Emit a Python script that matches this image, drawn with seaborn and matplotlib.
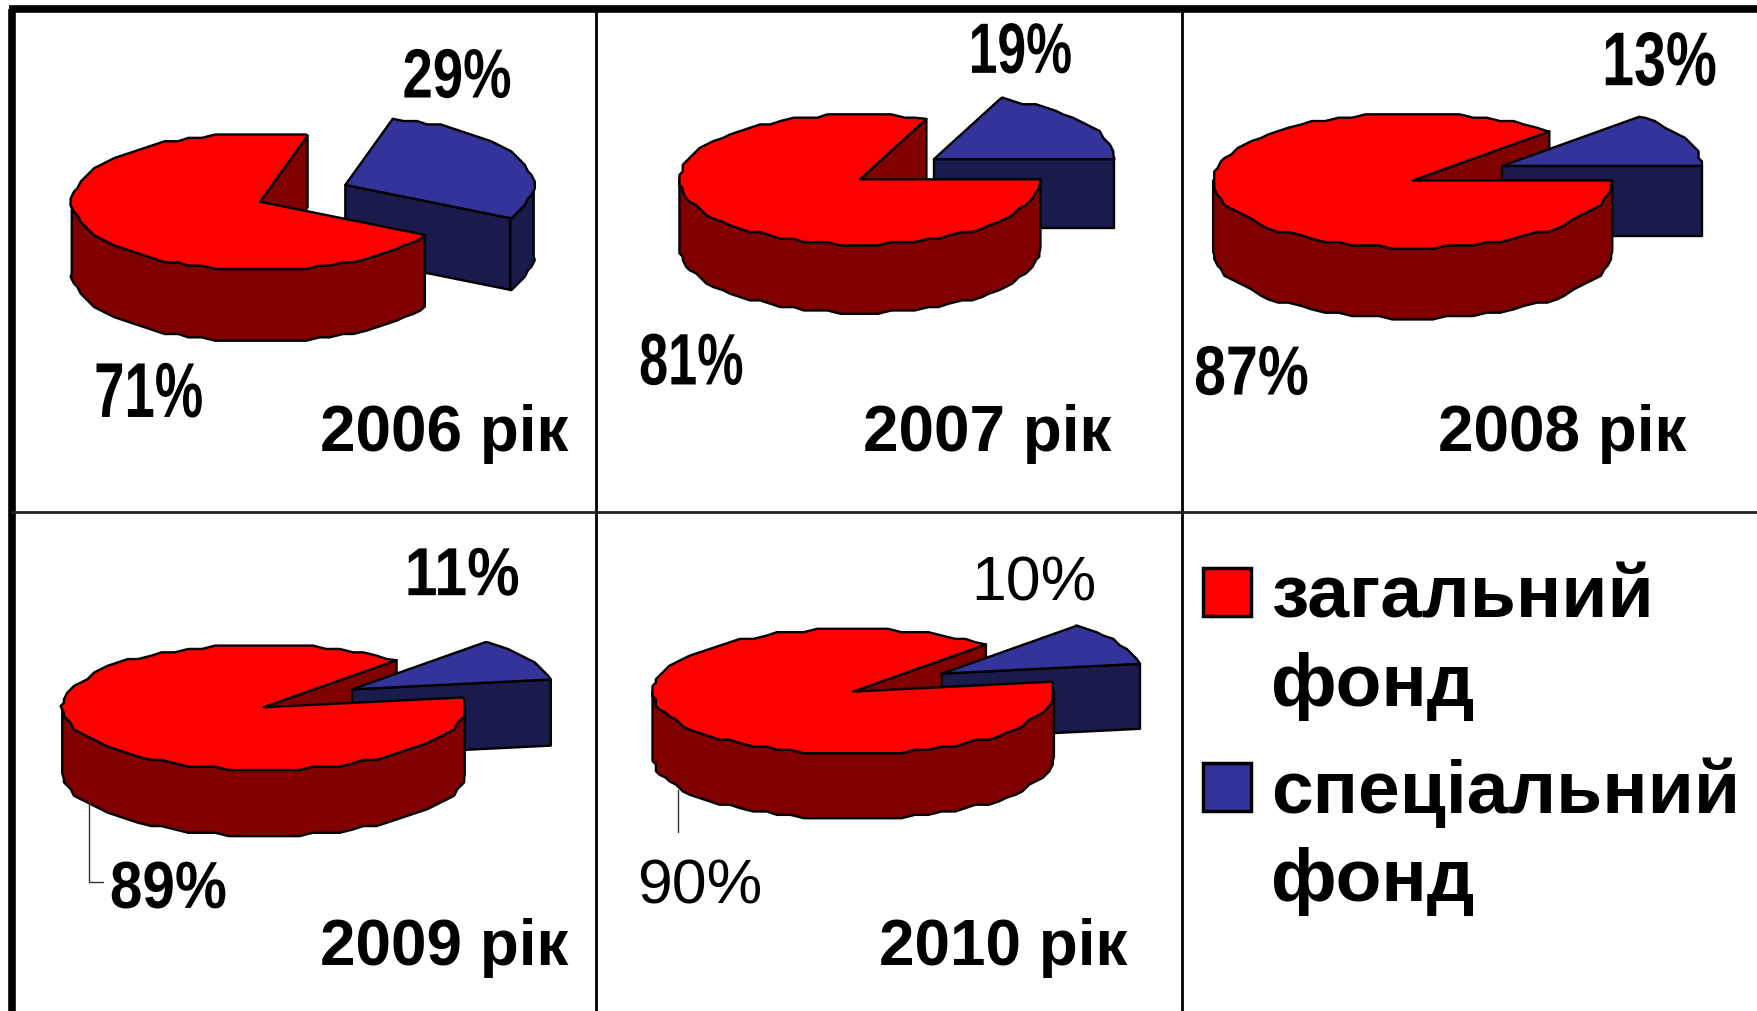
import numpy as np
import pandas as pd
import matplotlib
matplotlib.use("Agg")
import matplotlib.pyplot as plt
import seaborn as sns
from matplotlib.patches import Polygon, Rectangle
from matplotlib.patheffects import AbstractPathEffect
from matplotlib.transforms import Affine2D

# Дані
years = [2006, 2007, 2008, 2009, 2010]
general_labels = ["71%", "81%", "87%", "89%", "90%"]
special_labels = ["29%", "19%", "13%", "11%", "10%"]
# частка спецфонду, як вона намальована на секторах (2010 на малюнку ширше за підпис)
special_fund = [29, 19, 13, 11, 11]
legend_labels = ["загальний\nфонд", "спеціальний\nфонд"]

df = pd.DataFrame({"year": years, "special": special_fund,
                   "general_label": general_labels, "special_label": special_labels})

# Розташування (координати у пікселях зображення 1568x902)
centers = [(232, 180), (767, 160), (1260, 161), (235, 631), (761, 617)]
radii = [(168, 61), (161, 58), (178, 60), (179.5, 56), (179, 56)]
depths = [64, 61, 63, 59, 58]
offsets = [(76, -15), (66, -18), (80, -13), (79, -16), (79, -16)]
start_angles = [-29, 0, 0, 9, 9]

RED, RED_DARK = sns.color_palette(["#ff0000", "#800000"])
BLUE, BLUE_DARK = sns.color_palette(["#333399", "#1a1a4d"])

sns.set_theme(style="white")
plt.rcParams["font.family"] = ["Liberation Sans", "DejaVu Sans"]

fig = plt.figure(figsize=(17.58, 10.11), dpi=100)
ax = fig.add_axes([0, 0, 1, 1])
ax.set_xlim(0, 1568)
ax.set_ylim(902, 0)
ax.axis("off")


class Condense(AbstractPathEffect):
    # стискає гліфи по горизонталі, текст лишається текстом
    def __init__(self, sx):
        super().__init__()
        self.sx = sx

    def draw_path(self, renderer, gc, tpath, affine, rgbFace=None):
        renderer.draw_path(gc, tpath, Affine2D().scale(self.sx, 1) + affine, rgbFace)


def arc(cx, cy, rx, ry, a0, a1):
    # спільна сітка кутів, щоб верх і стінка збігалися; округлення дає зубчастий край
    inner = np.arange(np.ceil(a0 / 4) * 4, a1, 4.0)
    inner = inner[inner > a0]
    t = np.radians(inner)
    mid = np.column_stack([cx + rx * np.cos(t), cy - ry * np.sin(t)])
    mid = np.round(mid / 3) * 3
    ends = np.radians([a0, a1])
    first = [cx + rx * np.cos(ends[0]), cy - ry * np.sin(ends[0])]
    last = [cx + rx * np.cos(ends[1]), cy - ry * np.sin(ends[1])]
    return np.vstack([first, mid, last])


def poly(pts, color):
    ax.add_patch(Polygon(pts, closed=True, facecolor=color, edgecolor="black",
                         linewidth=1.7, joinstyle="round"))


def side_wall(cx, cy, rx, ry, depth, a0, a1, color):
    # зовнішня стінка тільки там, де дуга дивиться на глядача
    if a0 < 0:
        top = arc(cx, cy, rx, ry, a0, min(a1, 0))
    elif min(a1, 360) > max(a0, 180):
        top = arc(cx, cy, rx, ry, max(a0, 180), min(a1, 360))
    else:
        return
    poly(np.vstack([top, top[::-1] + [0, depth]]), color)


def cut_face(cx, cy, rx, ry, depth, angle, color):
    t = np.radians(angle)
    p = (cx + rx * np.cos(t), cy - ry * np.sin(t))
    poly([(cx, cy), p, (p[0], p[1] + depth), (cx, cy + depth)], color)


def sector_top(cx, cy, rx, ry, a0, a1, color):
    poly(np.vstack([[cx, cy], arc(cx, cy, rx, ry, a0, a1)]), color)


for i, row in df.iterrows():
    cx, cy = centers[i]
    rx, ry = radii[i]
    depth = depths[i]
    dx, dy = offsets[i]
    a0 = start_angles[i]
    a1 = a0 + row["special"] * 3.6
    bx, by = cx + dx, cy + dy

    cut_face(cx, cy, rx, ry, depth, a1, RED_DARK)

    # спеціальний фонд (винесений сектор)
    side_wall(bx, by, rx, ry, depth, a0, a1, BLUE_DARK)
    cut_face(bx, by, rx, ry, depth, a0, BLUE_DARK)
    sector_top(bx, by, rx, ry, a0, a1, BLUE)

    # загальний фонд
    side_wall(cx, cy, rx, ry, depth, a1, a0 + 360, RED_DARK)
    sector_top(cx, cy, rx, ry, a1, a0 + 360, RED)

# Сітка таблиці
ax.plot([10.5, 10.5], [8, 902], color="black", lw=5.5, solid_capstyle="butt")
ax.plot([8, 1568], [8, 8], color="black", lw=5.5, solid_capstyle="butt")
ax.plot([532, 532], [8, 902], color="black", lw=2)
ax.plot([1054, 1054], [8, 902], color="black", lw=2)
ax.plot([11, 1568], [457, 457], color="#222222", lw=2)

# Виноски
ax.plot([79, 79, 92], [715, 787, 787], color="#333333", lw=1)
ax.plot([605, 605], [705, 742], color="#333333", lw=1)

# Підписи відсотків: x, базова лінія, ширина і висота цифр
general_pos = [(85, 372, 96, 48), (571, 343, 92, 45), (1066, 352, 101, 43), (99, 810, 103, 41)]
special_pos = [(360, 87, 96, 43), (865, 65, 91, 44), (1430, 76, 101, 47), (362, 531, 104, 42)]
year_pos = [(285, 402), (770, 402), (1283, 402), (285, 861), (784, 861)]


def pct_label(text, x, base, w, h):
    fs = 56 * h / 48
    width_now = 137 * fs / 56
    ax.text(x - 1, base, text, fontsize=fs, fontweight="bold", va="baseline", ha="left",
            color="black", path_effects=[Condense(w / width_now)])


for i, row in df.iterrows():
    if i < 4:
        pct_label(row["general_label"], *general_pos[i])
        pct_label(row["special_label"], *special_pos[i])
    else:
        # 2010 підписаний звичайним шрифтом
        ax.text(568, 806, row["general_label"], fontsize=45, va="baseline", ha="left", color="black")
        ax.text(866, 536, row["special_label"], fontsize=45, va="baseline", ha="left", color="black")
    ax.text(*year_pos[i], f"{row['year']} рік", fontsize=46, fontweight="bold",
            va="baseline", ha="left", color="black")

# Легенда
legend_colors = [RED, BLUE]
legend_y = [507, 681]
legend_baselines = [(551, 630), (725, 804)]
for label, color, y, bases in zip(legend_labels, legend_colors, legend_y, legend_baselines):
    ax.add_patch(Rectangle((1073, y), 43, 43, facecolor=color, edgecolor="black", linewidth=2.5))
    for line, base in zip(label.split("\n"), bases):
        ax.text(1134, base, line, fontsize=54, fontweight="bold", va="baseline", ha="left", color="black")

fig.savefig("out.png", dpi=100)
